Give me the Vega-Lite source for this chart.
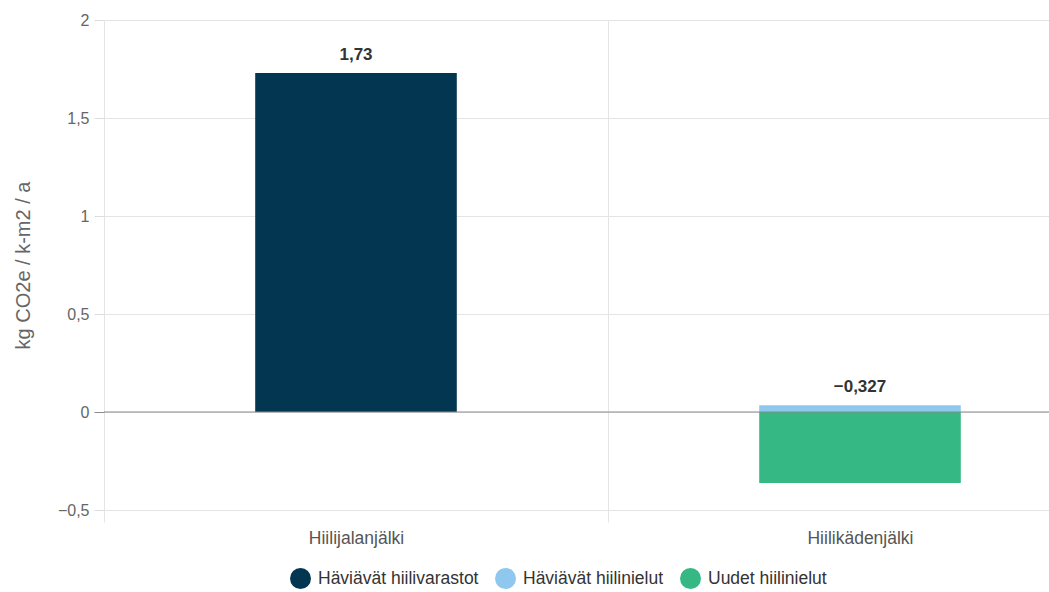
{
  "$schema": "https://vega.github.io/schema/vega-lite/v6.json",
  "autosize": "none",
  "width": 945,
  "height": 490,
  "padding": {"left": 104, "top": 20, "right": 0, "bottom": 82},
  "config": {
    "font": "Liberation Sans",
    "view": {"stroke": null},
    "locale": {"number": {"decimal": ",", "thousands": "\u00a0", "grouping": [3], "currency": ["", "\u00a0€"], "minus": "\u2212"}}
  },
  "datasets": {
    "bars": [
      {"kategoria": "Hiilijalanjälki", "tyyppi": "Häviävät hiilivarastot", "arvo": 1.73},
      {"kategoria": "Hiilikädenjälki", "tyyppi": "Häviävät hiilinielut", "arvo": 0.035},
      {"kategoria": "Hiilikädenjälki", "tyyppi": "Uudet hiilinielut", "arvo": -0.362}
    ],
    "totals": [
      {"kategoria": "Hiilijalanjälki", "huippu": 1.73, "summa": 1.73},
      {"kategoria": "Hiilikädenjälki", "huippu": 0.035, "summa": -0.327}
    ],
    "zero": [{"v": 0}]
  },
  "layer": [
    {
      "data": {"name": "bars"},
      "mark": {"type": "bar", "width": {"band": 0.4}},
      "encoding": {
        "x": {
          "field": "kategoria", "type": "nominal", "sort": null,
          "scale": {"domain": ["Hiilijalanjälki", "Hiilikädenjälki"], "range": [0, 1008], "paddingInner": 0, "paddingOuter": 0},
          "axis": {"title": null, "labelAngle": 0, "labelFontSize": 17.5, "labelColor": "#555", "labelPadding": 7, "domain": false, "tickBand": "extent", "tickSize": 12, "tickColor": "#e4e4e4", "grid": true, "gridColor": "#e4e4e4"}
        },
        "y": {
          "field": "arvo", "type": "quantitative", "stack": "zero",
          "scale": {"domain": [-0.5, 2], "nice": false},
          "axis": {"title": "kg CO2e / k-m2 / a", "titleFontSize": 20, "titleFontWeight": "normal", "titleColor": "#666", "titlePadding": 24, "values": [-0.5, 0, 0.5, 1, 1.5, 2], "format": "~g", "labelFontSize": 16, "labelColor": "#666", "labelPadding": 5, "domain": false, "tickSize": 10, "tickColor": {"condition": {"test": "datum.value === 0", "value": "#8a8a8a"}, "value": "#dcdcdc"}, "gridColor": "#e4e4e4"}
        },
        "color": {
          "field": "tyyppi", "type": "nominal",
          "scale": {"domain": ["Häviävät hiilivarastot", "Häviävät hiilinielut", "Uudet hiilinielut"], "range": ["#033651", "#8ec8ef", "#35b884"]},
          "legend": {"title": null, "orient": "none", "direction": "horizontal", "legendX": 186, "legendY": 548, "symbolType": "circle", "symbolSize": 440, "symbolStrokeWidth": 0, "labelFontSize": 17.5, "labelLimit": 400, "labelColor": "#333", "columnPadding": 16, "labelOffset": 7}
        },
        "order": {"field": "arvo", "type": "quantitative", "sort": "descending"}
      }
    },
    {
      "data": {"name": "zero"},
      "mark": {"type": "rule", "color": "#8a8a8a", "strokeWidth": 1.2},
      "encoding": {"y": {"field": "v", "type": "quantitative"}}
    },
    {
      "data": {"name": "totals"},
      "mark": {"type": "text", "fontSize": 17, "fontWeight": "bold", "color": "#333", "dy": -18, "baseline": "middle"},
      "encoding": {
        "x": {"field": "kategoria", "type": "nominal", "sort": null},
        "y": {"field": "huippu", "type": "quantitative"},
        "text": {"field": "summa", "type": "quantitative", "format": "~g"}
      }
    }
  ]
}
